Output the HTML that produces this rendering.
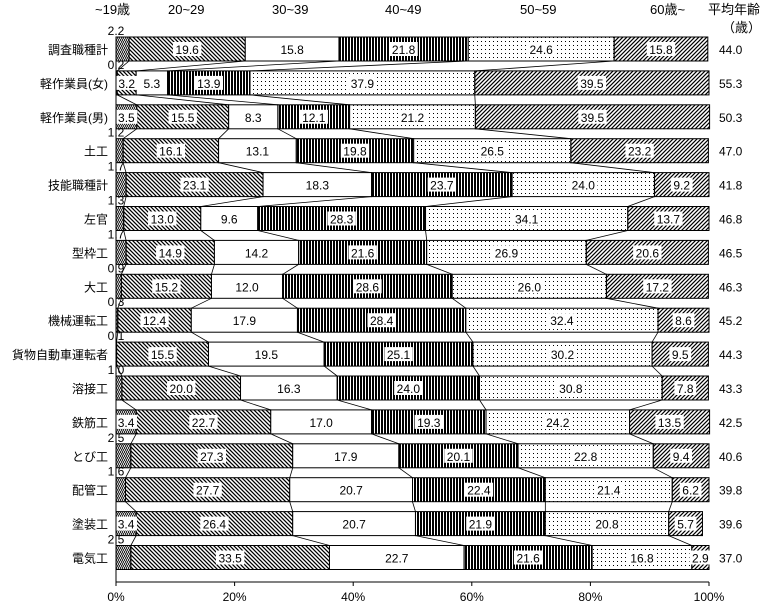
<!DOCTYPE html>
<html><head><meta charset="utf-8">
<style>
body{margin:0;background:#fff;}
svg{display:block;font-family:"Liberation Sans","Noto Sans CJK JP",sans-serif;}
</style></head>
<body>
<svg id="chart" width="763" height="604" viewBox="0 0 763 604" xmlns="http://www.w3.org/2000/svg">
<defs>
<pattern id="p0" patternUnits="userSpaceOnUse" width="4" height="4"><path d="M0,0 L2,2 L0,4 M2,0 L4,2 L2,4" stroke="#000" stroke-width="0.8" fill="none"/></pattern>
<pattern id="p1" patternUnits="userSpaceOnUse" width="4" height="4"><path d="M-1,-1 L5,5 M-1,3 L1,5 M3,-1 L5,1" stroke="#000" stroke-width="1.3"/></pattern>
<pattern id="p2" patternUnits="userSpaceOnUse" width="4" height="4"><rect width="4" height="4" fill="#fff"/></pattern>
<pattern id="p3" patternUnits="userSpaceOnUse" width="3" height="3"><rect width="2" height="3" fill="#000"/></pattern>
<pattern id="p4" patternUnits="userSpaceOnUse" width="4" height="4"><rect width="4" height="4" fill="#fff"/><rect x="1" y="1" width="1" height="1" fill="#000"/></pattern>
<pattern id="p5" patternUnits="userSpaceOnUse" width="4" height="4"><path d="M-1,5 L5,-1 M-1,1 L1,-1 M3,5 L5,3" stroke="#000" stroke-width="1.2"/></pattern>
</defs>
<g id="g"></g>
</svg>
<script>
const categories=["調査職種計","軽作業員(女)","軽作業員(男)","土工","技能職種計","左官","型枠工","大工","機械運転工","貨物自動車運転者","溶接工","鉄筋工","とび工","配管工","塗装工","電気工"];
const ageGroups=["~19歳","20~29","30~39","40~49","50~59","60歳~"];
const s19=[2.2,0.2,3.5,1.2,1.7,1.3,1.7,0.9,0.3,0.1,1.0,3.4,2.5,1.6,3.4,2.5];
const s20=[19.6,3.2,15.5,16.1,23.1,13.0,14.9,15.2,12.4,15.5,20.0,22.7,27.3,27.7,26.4,33.5];
const s30=[15.8,5.3,8.3,13.1,18.3,9.6,14.2,12.0,17.9,19.5,16.3,17.0,17.9,20.7,20.7,22.7];
const s40=[21.8,13.9,12.1,19.8,23.7,28.3,21.6,28.6,28.4,25.1,24.0,19.3,20.1,22.4,21.9,21.6];
const s50=[24.6,37.9,21.2,26.5,24.0,34.1,26.9,26.0,32.4,30.2,30.8,24.2,22.8,21.4,20.8,16.8];
const s60=[15.8,39.5,39.5,23.2,9.2,13.7,20.6,17.2,8.6,9.5,7.8,13.5,9.4,6.2,5.7,2.9];
const avgAge=["44.0","55.3","50.3","47.0","41.8","46.8","46.5","46.3","45.2","44.3","43.3","42.5","40.6","39.8","39.6","37.0"];
const xTicks=[0,20,40,60,80,100];
const series=[s19,s20,s30,s40,s50,s60];

const X0=116,X1=709,TOP=37,STEP=33.9,BH=24;
const x=v=>X0+(X1-X0)*v/100;
const y=i=>TOP+i*STEP;
const NS="http://www.w3.org/2000/svg";
const g=document.getElementById('g');
function mk(t,a,txt){const e=document.createElementNS(NS,t);for(const k in a)e.setAttribute(k,a[k]);if(txt!==undefined)e.textContent=txt;g.appendChild(e);return e;}
const FS=12;

const hx=[95,168,272,385,520,650];
ageGroups.forEach((l,j)=>{
const t=mk('text',{x:hx[j],y:14,'font-size':13});t.textContent=l;


});
let t=mk('text',{x:708,y:14,'font-size':13},'平均年齢');
t=mk('text',{x:722,y:32,'font-size':13},'（歳）');

const cums=[];
categories.forEach((c,i)=>{
let acc=0;const b=[0];
series.forEach((s,j)=>{
const v=s[i];
const r=mk('rect',{x:x(acc),y:y(i),width:x(acc+v)-x(acc),height:BH,fill:'url(#p'+j+')',stroke:'#000','stroke-width':1});


acc+=v;b.push(acc);
});
cums.push(b);
});
for(let i=0;i<categories.length-1;i++){
for(let k=1;k<6;k++){
const l=mk('line',{x1:x(cums[i][k]),y1:y(i)+BH,x2:x(cums[i+1][k]),y2:y(i+1),stroke:'#000','stroke-width':0.8});


}
}
categories.forEach((c,i)=>{
let acc=0;
series.forEach((s,j)=>{
const v=s[i];const cx=(x(acc)+x(acc+v))/2;const txt=v.toFixed(1);
const w=txt.length*6.6+2;
if(j===0&&v<3){
const tt=mk('text',{x:x(0),y:y(i)-2,'font-size':FS,'text-anchor':'middle'},txt);

}else{
const bg=mk('rect',{x:cx-w/2,y:y(i)+5,width:w,height:14,fill:'#fff'});

const tt=mk('text',{x:cx,y:y(i)+17,'font-size':FS,'text-anchor':'middle'},txt);

}
acc+=v;
});
const cl=mk('text',{x:108,y:y(i)+17,'font-size':FS,'text-anchor':'end'},c);

const al=mk('text',{x:719,y:y(i)+17,'font-size':FS},avgAge[i]);

});
const ax=mk('line',{x1:X0,y1:TOP,x2:X0,y2:582,stroke:'#000','stroke-width':1});

const bx=mk('line',{x1:X0,y1:582,x2:X1,y2:582,stroke:'#000','stroke-width':1});

xTicks.forEach(v=>{
const tk=mk('line',{x1:x(v),y1:582,x2:x(v),y2:586,stroke:'#000'});

const tl=mk('text',{x:x(v),y:601,'font-size':FS,'text-anchor':'middle'},v+'%');

});
</script>
</body></html>
